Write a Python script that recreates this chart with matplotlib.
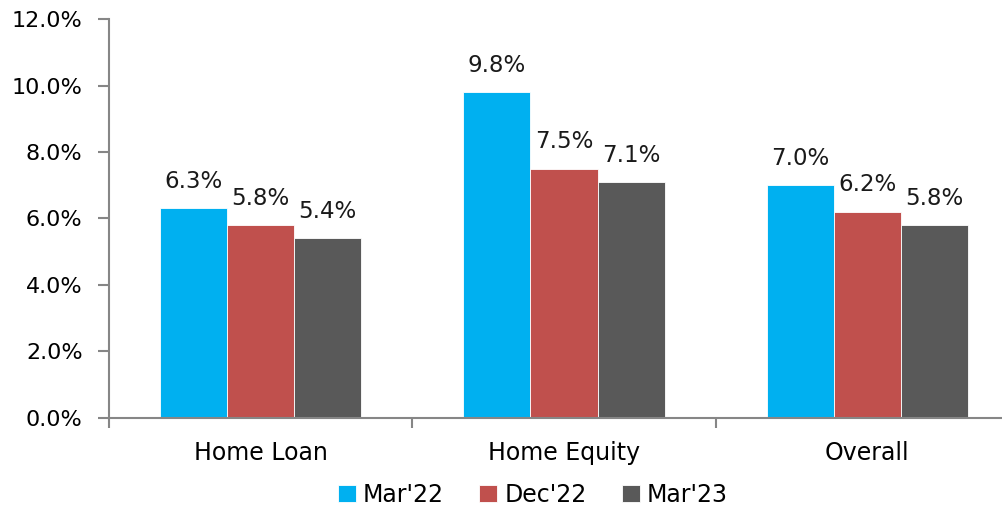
import matplotlib.pyplot as plt
import numpy as np
from matplotlib.ticker import FixedLocator, FuncFormatter

categories = ["Home Loan", "Home Equity", "Overall"]
series = ["Mar'22", "Dec'22", "Mar'23"]
mar22 = [6.3, 9.8, 7.0]
dec22 = [5.8, 7.5, 6.2]
mar23 = [5.4, 7.1, 5.8]
colors = ["#00B0F0", "#C0504D", "#595959"]

plt.rcParams['font.family'] = ['DejaVu Sans']
plt.rcParams['font.size'] = 16

fig = plt.figure(figsize=(10.03, 5.12), dpi=100)
ax = fig.add_axes([109 / 1003, 1 - 417.5 / 512, 910 / 1003, (417.5 - 19.3) / 512])

x = np.arange(len(categories))
w = 0.221
for i, (vals, name) in enumerate(zip([mar22, dec22, mar23], series)):
  pos = x + (i - 1) * w
  ax.bar(pos, vals, width=w, color=colors[i], label=name, edgecolor='white', linewidth=0.6)
  for xp, v in zip(pos, vals):
    ax.annotate(f"{v:.1f}%", (xp, v), xytext=(0, 11), textcoords='offset points',
                ha='center', va='bottom', fontsize=16.5, color='#1a1a1a')

ax.set_xlim(-0.5, 2.5)
ax.set_ylim(0, 12)
ax.set_yticks(np.arange(0, 12.1, 2))
ax.yaxis.set_major_formatter(FuncFormatter(lambda v, p: f"{v:.1f}%"))
ax.set_xticks(x)
ax.set_xticklabels(categories, fontsize=17)
ax.xaxis.set_minor_locator(FixedLocator([-0.5, 0.5, 1.5, 2.5]))
ax.tick_params(axis='x', which='major', length=0, pad=17)
ax.tick_params(axis='x', which='minor', length=7, color='#868686', width=1.5, direction='out')
ax.tick_params(axis='y', length=8, color='#868686', width=1.5, pad=11)

for s in ['top', 'right']:
  ax.spines[s].set_visible(False)
for s in ['left', 'bottom']:
  ax.spines[s].set_color('#868686')
  ax.spines[s].set_linewidth(1.5)

fig.legend(loc='center', bbox_to_anchor=(533 / 1003, 1 - 495 / 512), ncol=3, frameon=False,
           handlelength=0.75, handleheight=0.75, handletextpad=0.3, columnspacing=1.5, fontsize=17)

plt.savefig("out.png", dpi=100)
plt.close()
